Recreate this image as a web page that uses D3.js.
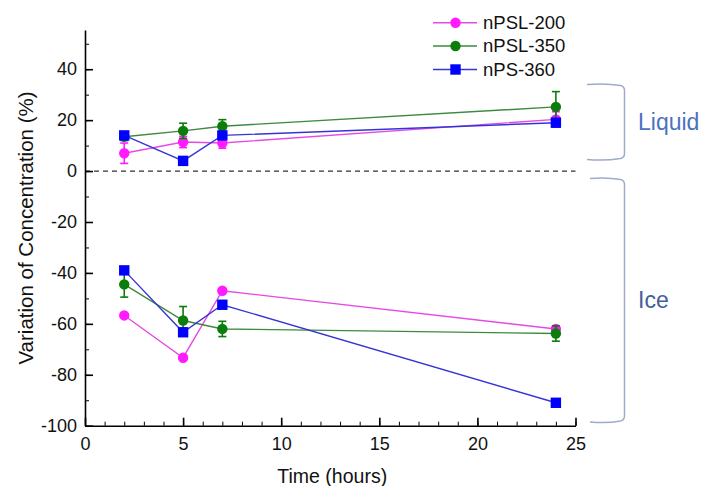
<!DOCTYPE html>
<html>
<head>
<meta charset="utf-8">
<script src="https://cdn.jsdelivr.net/npm/d3@7"></script>
<style>
  body { margin: 0; background: #fff; }
  svg { font-family: "Liberation Sans", Arial, sans-serif; }
</style>
</head>
<body>
<div class="chart"></div>
<script>
var svgWidth = 702;
var svgHeight = 486;

// Data
var times = [2, 5, 7, 24];
var seriesNames = ["nPSL-200", "nPSL-350", "nPS-360"];
var liquid200 = [7.0, 11.4, 11.0, 20.3];
var liquid200Err = [4, 2.2, 2, 3];
var liquid350 = [13.5, 15.8, 17.6, 25.2];
var liquid350Err = [1.5, 3, 2.6, 6];
var liquid360 = [14.0, 4.0, 14.0, 19.0];
var liquid360Err = [0, 0, 0, 0];
var ice200 = [-56.7, -73.3, -47.0, -62.0];
var ice200Err = [0, 0, 0, 0];
var ice350 = [-44.5, -58.7, -62.0, -63.8];
var ice350Err = [5, 5.5, 3, 3];
var ice360 = [-39.0, -63.3, -52.5, -91.0];
var ice360Err = [0, 0, 0, 0];
var xTicks = [0, 5, 10, 15, 20, 25];
var yTicks = [-100, -80, -60, -40, -20, 0, 20, 40];

var styles = {
  "nPSL-200": { line: "#e649e6", fill: "#ff1aff", shape: "circle" },
  "nPSL-350": { line: "#3d8a3d", fill: "#0b7d0b", shape: "circle" },
  "nPS-360": { line: "#3535d6", fill: "#0000ff", shape: "square" }
};

var series = [
  { name: "nPSL-200", values: liquid200, err: liquid200Err },
  { name: "nPSL-350", values: liquid350, err: liquid350Err },
  { name: "nPS-360", values: liquid360, err: liquid360Err },
  { name: "nPSL-200", values: ice200, err: ice200Err },
  { name: "nPSL-350", values: ice350, err: ice350Err },
  { name: "nPS-360", values: ice360, err: ice360Err }
];

var svg = d3.select(".chart")
  .append("svg")
  .attr("width", svgWidth)
  .attr("height", svgHeight);

var x = d3.scaleLinear().domain([0, 25]).range([85, 575.5]);
var y = d3.scaleLinear().domain([-100, 55.4]).range([425.7, 30]);

// dashed zero line
svg.append("line")
  .attr("x1", x(0)).attr("x2", x(25))
  .attr("y1", y(0)).attr("y2", y(0))
  .attr("stroke", "#333")
  .attr("stroke-width", 1.2)
  .attr("stroke-dasharray", "5,4");

// minor ticks
svg.append("g")
  .attr("transform", `translate(0, ${y(-100)})`)
  .call(d3.axisBottom(x).tickValues(d3.range(0, 26, 1)).tickSize(-4).tickSizeOuter(0).tickFormat(""))
  .call(g => g.select(".domain").remove());
svg.append("g")
  .attr("transform", `translate(${x(0)}, 0)`)
  .call(d3.axisLeft(y).tickValues(d3.range(-100, 56, 10)).tickSize(-4).tickSizeOuter(0).tickFormat(""))
  .call(g => g.select(".domain").remove());

// main axes (plain hyphen for negatives, like the original)
var fmt = d => String(d);
var xAxis = svg.append("g")
  .attr("transform", `translate(0, ${y(-100)})`)
  .call(d3.axisBottom(x).tickValues(xTicks).tickSize(-8).tickSizeOuter(0).tickPadding(11.5).tickFormat(fmt));
var yAxis = svg.append("g")
  .attr("transform", `translate(${x(0)}, 0)`)
  .call(d3.axisLeft(y).tickValues(yTicks).tickSize(-8).tickSizeOuter(0).tickPadding(8).tickFormat(fmt));

[xAxis, yAxis].forEach(function(a) {
  a.selectAll("path, line").attr("stroke", "#000").attr("stroke-width", 1.6);
  a.selectAll("text").attr("font-size", 18).attr("fill", "#111").attr("font-family", "Liberation Sans, Arial, sans-serif");
});

// axis titles
svg.append("text")
  .attr("x", (x(0) + x(25)) / 2 + 2)
  .attr("y", 483)
  .attr("text-anchor", "middle")
  .attr("font-size", 19.5)
  .attr("fill", "#111")
  .text("Time (hours)");

svg.append("text")
  .attr("transform", "translate(33, 228) rotate(-90)")
  .attr("text-anchor", "middle")
  .attr("font-size", 20.5)
  .attr("fill", "#111")
  .text("Variation of Concentration (%)");

// series
var line = d3.line().x(d => x(d.t)).y(d => y(d.v));

function drawMarker(g, shape, cx, cy, fill) {
  if (shape === "circle") {
    g.append("circle").attr("cx", cx).attr("cy", cy).attr("r", 5.2).attr("fill", fill);
  } else {
    g.append("rect").attr("x", cx - 5.2).attr("y", cy - 5.2)
      .attr("width", 10.4).attr("height", 10.4).attr("fill", fill);
  }
}

series.forEach(function(s) {
  var st = styles[s.name];
  var pts = times.map((t, i) => ({ t: t, v: s.values[i], e: s.err[i] }));
  var g = svg.append("g");
  g.append("path")
    .datum(pts)
    .attr("d", line)
    .attr("fill", "none")
    .attr("stroke", st.line)
    .attr("stroke-width", 1.4);
  pts.forEach(function(p) {
    if (p.e > 0) {
      var cx = x(p.t);
      g.append("line").attr("x1", cx).attr("x2", cx)
        .attr("y1", y(p.v - p.e)).attr("y2", y(p.v + p.e))
        .attr("stroke", st.fill).attr("stroke-width", 1.6);
      [p.v - p.e, p.v + p.e].forEach(function(v) {
        g.append("line").attr("x1", cx - 4).attr("x2", cx + 4)
          .attr("y1", y(v)).attr("y2", y(v))
          .attr("stroke", st.fill).attr("stroke-width", 1.6);
      });
    }
  });
  pts.forEach(p => drawMarker(g, st.shape, x(p.t), y(p.v), st.fill));
});

// legend
var legendY = [22.7, 46, 69.5];
seriesNames.forEach(function(name, i) {
  var st = styles[name];
  var g = svg.append("g");
  g.append("line").attr("x1", 433).attr("x2", 477)
    .attr("y1", legendY[i]).attr("y2", legendY[i])
    .attr("stroke", st.line).attr("stroke-width", 1.4);
  drawMarker(g, st.shape, 455.5, legendY[i], st.fill);
  g.append("text")
    .attr("x", 483)
    .attr("y", legendY[i])
    .attr("dy", "0.35em")
    .attr("font-size", 18.5)
    .attr("fill", "#111")
    .text(name);
});

// brackets
function bracket(x0, x1, top, bottom) {
  return `M${x0},${top} Q${(x0 + x1) / 2},${top - 1.5} ${x1 - 4},${top + 1}` +
    ` Q${x1},${top + 2} ${x1},${top + 6} L${x1},${bottom - 6}` +
    ` Q${x1},${bottom - 2} ${x1 - 4},${bottom - 1} Q${(x0 + x1) / 2},${bottom + 1.5} ${x0},${bottom}`;
}
svg.append("path")
  .attr("d", bracket(587, 624.5, 84.5, 159.5))
  .attr("fill", "none").attr("stroke", "#9eabc9").attr("stroke-width", 1.5);
svg.append("path")
  .attr("d", bracket(590, 624.5, 178.5, 422))
  .attr("fill", "none").attr("stroke", "#9eabc9").attr("stroke-width", 1.5);

svg.append("text")
  .attr("x", 638).attr("y", 130)
  .attr("font-size", 23)
  .attr("fill", "#4a72c0")
  .text("Liquid");
svg.append("text")
  .attr("x", 638).attr("y", 308)
  .attr("font-size", 23)
  .attr("fill", "#42609c")
  .text("Ice");
</script>
</body>
</html>
